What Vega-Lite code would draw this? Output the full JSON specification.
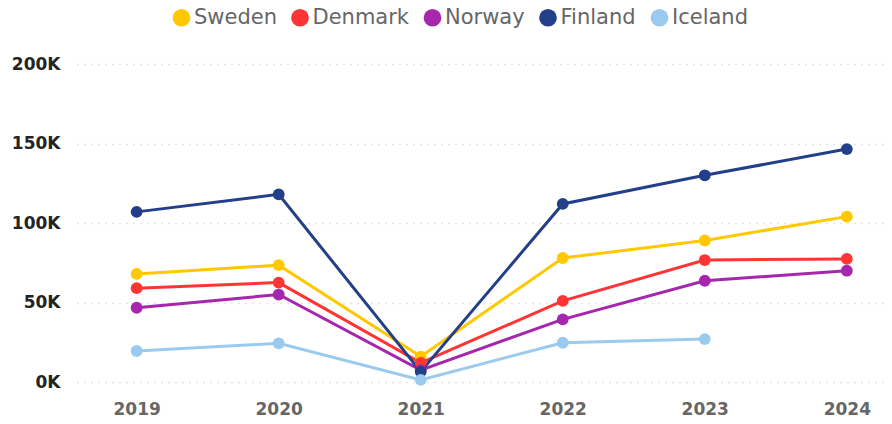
{
  "$schema": "https://vega.github.io/schema/vega-lite/v6.json",
  "width": 811,
  "height": 318,
  "autosize": "none",
  "padding": {"left": 77, "top": 64, "right": 4, "bottom": 42},
  "background": "white",
  "config": {"view": {"stroke": null}, "font": "DejaVu Sans"},
  "data": {
    "values": [
      {"year": 2019, "country": "Sweden", "value": 68000},
      {"year": 2020, "country": "Sweden", "value": 73500},
      {"year": 2021, "country": "Sweden", "value": 16000},
      {"year": 2022, "country": "Sweden", "value": 78000},
      {"year": 2023, "country": "Sweden", "value": 89000},
      {"year": 2024, "country": "Sweden", "value": 104000},
      {"year": 2019, "country": "Denmark", "value": 59000},
      {"year": 2020, "country": "Denmark", "value": 62500},
      {"year": 2021, "country": "Denmark", "value": 12000},
      {"year": 2022, "country": "Denmark", "value": 51000},
      {"year": 2023, "country": "Denmark", "value": 76700},
      {"year": 2024, "country": "Denmark", "value": 77400},
      {"year": 2019, "country": "Norway", "value": 46700},
      {"year": 2020, "country": "Norway", "value": 55000},
      {"year": 2021, "country": "Norway", "value": 7500},
      {"year": 2022, "country": "Norway", "value": 39400},
      {"year": 2023, "country": "Norway", "value": 63700},
      {"year": 2024, "country": "Norway", "value": 70000},
      {"year": 2019, "country": "Finland", "value": 107000},
      {"year": 2020, "country": "Finland", "value": 118000},
      {"year": 2021, "country": "Finland", "value": 6500},
      {"year": 2022, "country": "Finland", "value": 112000},
      {"year": 2023, "country": "Finland", "value": 130000},
      {"year": 2024, "country": "Finland", "value": 146500},
      {"year": 2019, "country": "Iceland", "value": 19500},
      {"year": 2020, "country": "Iceland", "value": 24300},
      {"year": 2021, "country": "Iceland", "value": 1300},
      {"year": 2022, "country": "Iceland", "value": 24700},
      {"year": 2023, "country": "Iceland", "value": 27000}
    ]
  },
  "encoding": {
    "x": {
      "field": "year", "type": "quantitative",
      "scale": {"domain": [2018.58, 2024.29], "nice": false, "zero": false},
      "axis": {
        "values": [2019, 2020, 2021, 2022, 2023, 2024], "format": "d", "title": null,
        "grid": false, "domain": false, "ticks": false,
        "labelFont": "DejaVu Sans", "labelFontWeight": "bold", "labelFontSize": 17,
        "labelColor": "#666666", "labelPadding": 19, "labelFlush": false
      }
    },
    "y": {
      "field": "value", "type": "quantitative",
      "scale": {"domain": [0, 200000], "nice": false},
      "axis": {
        "values": [0, 50000, 100000, 150000, 200000],
        "labelExpr": "format(datum.value / 1000, 'd') + 'K'",
        "title": null, "domain": false, "ticks": false,
        "grid": true, "gridColor": "#c8c8c8", "gridDash": [1, 6], "gridWidth": 1.5,
        "labelFont": "DejaVu Sans", "labelFontWeight": "bold", "labelFontSize": 17,
        "labelColor": "#252423", "labelPadding": 17
      }
    },
    "color": {
      "field": "country", "type": "nominal",
      "scale": {
        "domain": ["Sweden", "Denmark", "Norway", "Finland", "Iceland"],
        "range": ["#FFC800", "#FF3535", "#A626AE", "#243F8A", "#9ACAEE"]
      },
      "legend": {
        "title": null, "orient": "none", "direction": "horizontal",
        "legendX": 94, "legendY": -57,
        "symbolType": "circle", "symbolSize": 314, "symbolStrokeWidth": 0,
        "symbolOpacity": 1,
        "labelFont": "DejaVu Sans", "labelFontSize": 21, "labelColor": "#666666",
        "labelOffset": 2, "columnPadding": 12.5
      }
    }
  },
  "layer": [
    {"mark": {"type": "line", "strokeWidth": 3}},
    {"mark": {"type": "point", "filled": true, "size": 140, "opacity": 1}}
  ]
}
